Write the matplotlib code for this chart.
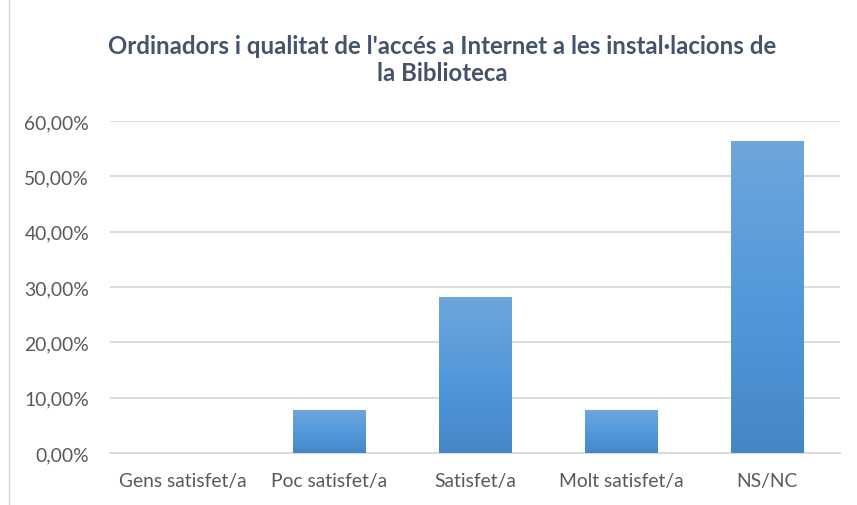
import matplotlib
matplotlib.use("Agg")
import matplotlib.pyplot as plt
import numpy as np
from matplotlib.colors import LinearSegmentedColormap
from matplotlib.ticker import FuncFormatter
from matplotlib.patches import Rectangle

categories = ["Gens satisfet/a", "Poc satisfet/a", "Satisfet/a", "Molt satisfet/a", "NS/NC"]
values = [0.0, 7.69, 28.21, 7.69, 56.41]
yticks = [0, 10, 20, 30, 40, 50, 60]
title = "Ordinadors i qualitat de l'accés a Internet a les instal·lacions de\nla Biblioteca"

plt.rcParams['font.family'] = ['Lato', 'DejaVu Sans']

fig = plt.figure(figsize=(8.57, 5.06), dpi=100)
ax = fig.add_axes([110/857, 52/506, 730/857, 332/506])

x = np.arange(len(categories))
bars = ax.bar(x, values, width=0.5, color='none', edgecolor='none', zorder=3)

cmap = LinearSegmentedColormap.from_list("g", ["#4487c7", "#5399da", "#6fa6dc"])
grad = np.linspace(0, 1, 256).reshape(-1, 1)
for b in bars:
    h = b.get_height()
    if h <= 0:
        continue
    x0 = b.get_x(); w = b.get_width()
    im = ax.imshow(grad, cmap=cmap, origin='lower', aspect='auto',
                   extent=[x0, x0 + w, 0, h], zorder=3)
    im.set_clip_path(b)

ax.set_xlim(-0.5, len(categories) - 0.5)
ax.set_ylim(0, 60)
ax.set_yticks(yticks)
ax.yaxis.set_major_formatter(FuncFormatter(lambda v, p: f"{v:.2f}%".replace('.', ',')))
ax.set_xticks(x)
ax.set_xticklabels(categories)
ax.grid(axis='y', color='#d9d9d9', linewidth=1.3, zorder=0)
for s in ['top', 'right', 'left']:
    ax.spines[s].set_visible(False)
ax.spines['bottom'].set_color('#d9d9d9')
ax.spines['bottom'].set_linewidth(1.3)
ax.tick_params(axis='both', length=0, labelsize=13.9, labelcolor='#595959')
ax.tick_params(axis='y', pad=15)
ax.tick_params(axis='x', pad=14)

fig.text(442/857, 1 - 60/506, title, ha='center', va='center', fontsize=17.3,
         fontweight='bold', color='#44546a', linespacing=1.2)

fig.patches.append(Rectangle((9/857, -0.01), 1.0, 1.02, transform=fig.transFigure,
                             fill=False, edgecolor='#d9d9d9', linewidth=1.0))

fig.savefig("out.png", dpi=100)
